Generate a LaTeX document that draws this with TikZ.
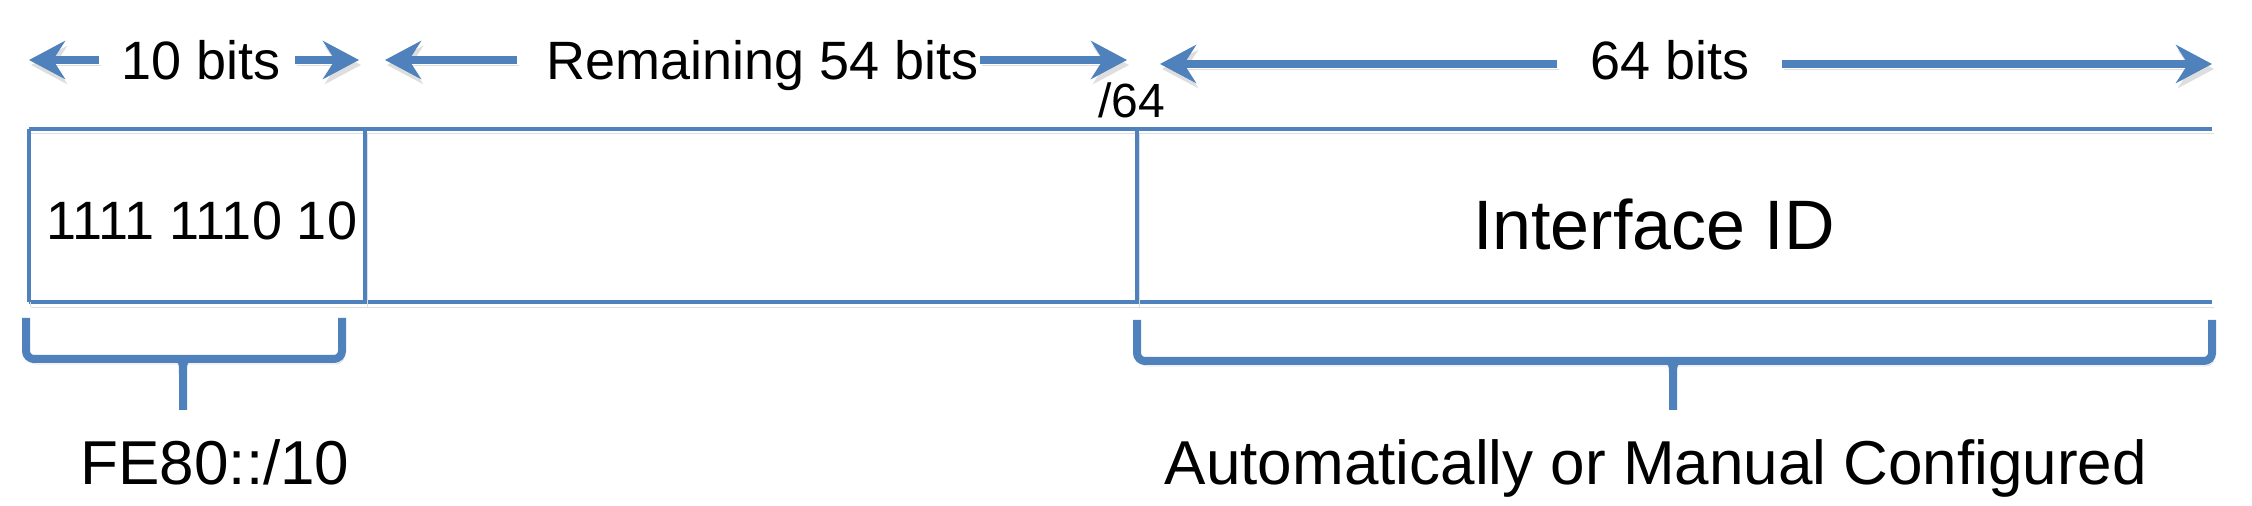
\documentclass[tikz,border=0pt]{standalone}
\usepackage{fontspec}
\setmainfont{Liberation Sans}
\usetikzlibrary{arrows.meta}
\definecolor{obl}{HTML}{4F81BD}
\begin{document}
\begin{tikzpicture}[x=0.5pt,y=-0.5pt,
  shd/.style={preaction={draw=black!13,transform canvas={shift={(1pt,-2.5pt)}}}},
  boxline/.style={draw=obl,line width=2pt,shd},
  dimarrow/.style={draw=obl,line width=4pt,shd,-{Stealth[length=18pt,width=19pt,inset=6pt]}},
  bracepath/.style={draw=obl,line width=4pt,rounded corners=4pt,shd},
  stemfill/.style={fill=obl,draw=none},
  cell/.style={draw=none,inner sep=0pt,minimum height=86.5pt},
  toplbl/.style={font=\fontsize{27}{30}\selectfont,inner sep=0pt,text height=19.3pt,text depth=0pt},
  slashlbl/.style={font=\fontsize{24}{28}\selectfont,inner sep=0pt,text height=17.2pt,text depth=0pt},
  bitslbl/.style={font=\fontsize{27}{30}\selectfont,inner sep=0pt,text height=19.3pt,text depth=0pt},
  idlbl/.style={font=\fontsize{35}{40}\selectfont,inner sep=0pt,text height=25pt,text depth=0pt},
  botlbl/.style={font=\fontsize{31}{36}\selectfont,inner sep=0pt,text height=22.2pt,text depth=0pt},
]
\useasboundingbox (0,0) rectangle (2252,506);
% cells
\node[cell,minimum width=168pt] (c1) at (197,215.5) {};
\node[cell,minimum width=386pt] (c2) at (751,215.5) {};
\node[cell,minimum width=537.5pt] (c3) at (1674.5,215.5) {};
\draw[boxline] (c1.north west) -- (c3.north east);
\draw[boxline] (c1.south west) -- (c3.south east);
\draw[boxline] (c1.north west) -- (c1.south west);
\draw[boxline] (c1.north east) -- (c1.south east);
\draw[boxline] (c2.north east) -- (c2.south east);
% cell texts
\node[bitslbl] (bits) at (202,220) {1111 1110 10};
\node[idlbl] (iid) at (1654,225) {Interface ID};
% top labels
\node[toplbl] (t10) at (201,60) {10 bits};
\node[toplbl] (trem) at (763,60) {Remaining 54 bits};
\node[toplbl] (t64) at (1670,60) {64 bits};
\node[slashlbl] (s64) at (1132,100) {/64};
\coordinate (tip10l) at (29,60);
\coordinate (tip10r) at (359,60);
\coordinate (tipreml) at (385,60);
\coordinate (tipremr) at (1127,60);
\coordinate (tip64l) at (1160,64);
\coordinate (tip64r) at (2212,64);
\draw[dimarrow,shorten <=11pt] (t10.west) -- (tip10l);
\draw[dimarrow,shorten <=7pt] (t10.east) -- (tip10r);
\draw[dimarrow,shorten <=14.5pt] (trem.west) -- (tipreml);
\draw[dimarrow] (trem.east) -- (tipremr);
\draw[dimarrow,shorten <=16.5pt] ([yshift=-2pt]t64.west) -- (tip64l);
\draw[dimarrow,shorten <=16pt] ([yshift=-2pt]t64.east) -- (tip64r);
% braces
\coordinate (b1l) at (26,318);
\coordinate (b1r) at (342,318);
\coordinate (b1m) at (183,359);
\coordinate (b1s) at (183,410);
\draw[bracepath] (b1l) |- (b1m) -| (b1r);
\fill[stemfill] ([xshift=-5pt]b1m) .. controls ([xshift=-2pt,yshift=-2pt]b1m) .. ([xshift=-2pt,yshift=-8pt]b1m)
  -- ([xshift=-2pt]b1s) -- ([xshift=2pt]b1s) -- ([xshift=2pt,yshift=-8pt]b1m)
  .. controls ([xshift=2pt,yshift=-2pt]b1m) .. ([xshift=5pt]b1m) -- cycle;
\coordinate (b2l) at (1137,320);
\coordinate (b2r) at (2212,320);
\coordinate (b2m) at (1673,361);
\coordinate (b2s) at (1673,410);
\draw[bracepath] (b2l) |- (b2m) -| (b2r);
\fill[stemfill] ([xshift=-5pt]b2m) .. controls ([xshift=-2pt,yshift=-2pt]b2m) .. ([xshift=-2pt,yshift=-8pt]b2m)
  -- ([xshift=-2pt]b2s) -- ([xshift=2pt]b2s) -- ([xshift=2pt,yshift=-8pt]b2m)
  .. controls ([xshift=2pt,yshift=-2pt]b2m) .. ([xshift=5pt]b2m) -- cycle;
% bottom labels
\node[botlbl] (fe80) at (215,462) {FE80::/10};
\node[botlbl] (auto) at (1656,462) {Automatically or Manual Configured};
\end{tikzpicture}
\end{document}
